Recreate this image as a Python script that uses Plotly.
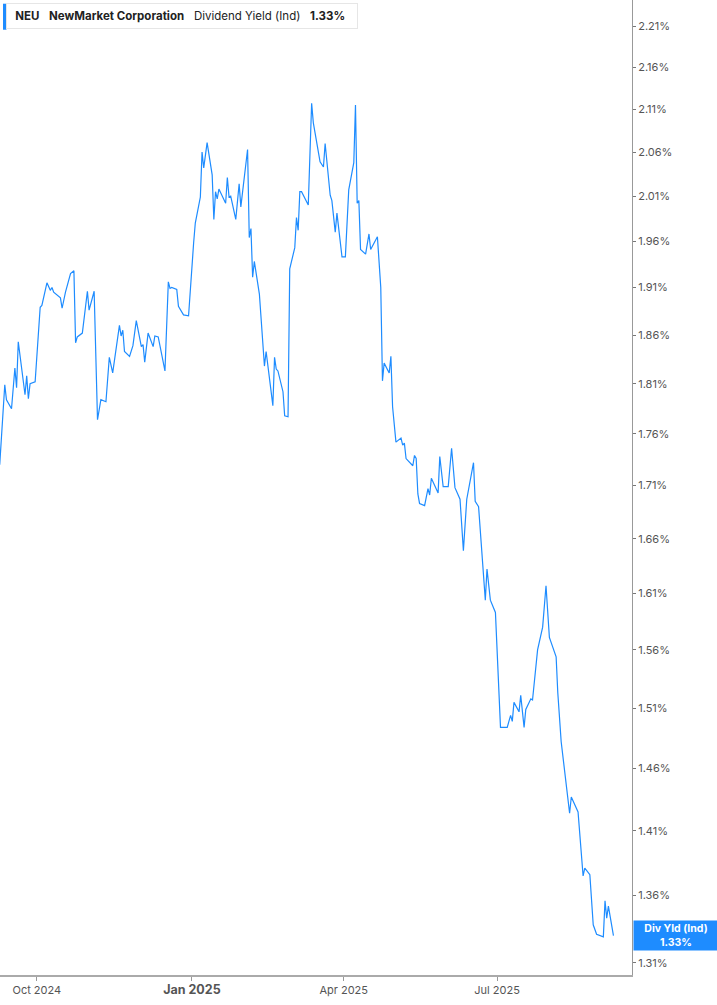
import numpy as np
import plotly.graph_objects as go

# NEU 배당수익률 (Ind), 그림에서 읽은 값 (%)
dates = [
    "2024-09-09", "2024-09-12", "2024-09-13", "2024-09-16", "2024-09-18", "2024-09-19",
    "2024-09-20", "2024-09-24", "2024-09-25", "2024-09-26", "2024-09-27", "2024-09-30",
    "2024-10-03", "2024-10-04", "2024-10-07", "2024-10-09", "2024-10-10", "2024-10-11",
    "2024-10-15", "2024-10-16", "2024-10-18", "2024-10-21", "2024-10-23", "2024-10-24",
    "2024-10-25", "2024-10-28", "2024-10-31", "2024-11-01", "2024-11-04", "2024-11-06",
    "2024-11-08", "2024-11-11", "2024-11-13", "2024-11-15", "2024-11-19", "2024-11-20",
    "2024-11-21", "2024-11-22", "2024-11-25", "2024-11-27", "2024-11-29", "2024-12-02",
    "2024-12-03", "2024-12-04", "2024-12-06", "2024-12-09", "2024-12-10", "2024-12-12",
    "2024-12-16", "2024-12-18", "2024-12-19", "2024-12-20", "2024-12-23", "2024-12-24",
    "2024-12-27", "2024-12-30", "2025-01-02", "2025-01-03", "2025-01-06", "2025-01-07",
    "2025-01-08", "2025-01-10", "2025-01-13", "2025-01-14", "2025-01-15", "2025-01-16",
    "2025-01-17", "2025-01-21", "2025-01-22", "2025-01-23", "2025-01-24", "2025-01-27",
    "2025-01-29", "2025-01-30", "2025-02-03", "2025-02-04", "2025-02-05", "2025-02-06",
    "2025-02-07", "2025-02-10", "2025-02-13", "2025-02-14", "2025-02-18", "2025-02-19",
    "2025-02-20", "2025-02-21", "2025-02-24", "2025-02-25", "2025-02-27", "2025-02-28",
    "2025-03-03", "2025-03-04", "2025-03-05", "2025-03-06", "2025-03-07", "2025-03-11",
    "2025-03-13", "2025-03-14", "2025-03-18", "2025-03-20", "2025-03-21", "2025-03-24",
    "2025-03-25", "2025-03-27", "2025-03-28", "2025-03-31", "2025-04-02", "2025-04-04",
    "2025-04-07", "2025-04-08", "2025-04-09", "2025-04-10", "2025-04-11", "2025-04-14",
    "2025-04-16", "2025-04-17", "2025-04-21", "2025-04-23", "2025-04-24", "2025-04-25",
    "2025-04-28", "2025-04-29", "2025-04-30", "2025-05-02", "2025-05-05", "2025-05-06",
    "2025-05-07", "2025-05-08", "2025-05-12", "2025-05-13", "2025-05-14", "2025-05-15",
    "2025-05-16", "2025-05-19", "2025-05-21", "2025-05-22", "2025-05-23", "2025-05-27",
    "2025-05-28", "2025-05-30", "2025-06-02", "2025-06-04", "2025-06-06", "2025-06-09",
    "2025-06-11", "2025-06-13", "2025-06-17", "2025-06-18", "2025-06-20", "2025-06-24",
    "2025-06-25", "2025-06-27", "2025-06-30", "2025-07-03", "2025-07-07", "2025-07-09",
    "2025-07-10", "2025-07-11", "2025-07-14", "2025-07-15", "2025-07-17", "2025-07-18",
    "2025-07-21", "2025-07-22", "2025-07-25", "2025-07-28", "2025-07-30", "2025-08-01",
    "2025-08-05", "2025-08-06", "2025-08-08", "2025-08-11", "2025-08-13", "2025-08-14",
    "2025-08-18", "2025-08-21", "2025-08-22", "2025-08-25", "2025-08-27", "2025-08-29",
    "2025-09-02", "2025-09-03", "2025-09-04", "2025-09-05", "2025-09-08",
]
div_yield = [
    1.730, 1.809, 1.794, 1.785, 1.826, 1.806,
    1.853, 1.799, 1.818, 1.795, 1.810, 1.812,
    1.889, 1.891, 1.915, 1.907, 1.910, 1.905,
    1.899, 1.888, 1.905, 1.925, 1.928, 1.852,
    1.858, 1.862, 1.906, 1.886, 1.906, 1.774,
    1.794, 1.792, 1.837, 1.821, 1.870, 1.859,
    1.865, 1.843, 1.838, 1.849, 1.875, 1.848,
    1.850, 1.832, 1.862, 1.848, 1.859, 1.858,
    1.823, 1.916, 1.909, 1.910, 1.908, 1.890,
    1.881, 1.880, 1.958, 1.980, 2.009, 2.060,
    2.042, 2.071, 2.034, 1.984, 2.015, 2.007,
    2.018, 2.002, 2.031, 2.009, 2.010, 1.984,
    2.024, 1.998, 2.063, 1.964, 1.974, 1.921,
    1.938, 1.903, 1.828, 1.843, 1.788, 1.837,
    1.825, 1.823, 1.802, 1.778, 1.777, 1.930,
    1.953, 1.986, 1.972, 2.015, 2.015, 2.000,
    2.117, 2.094, 2.049, 2.043, 2.070, 2.011,
    2.005, 1.970, 1.991, 1.943, 1.943, 2.017,
    2.048, 2.115, 2.002, 2.005, 1.951, 1.946,
    1.968, 1.951, 1.965, 1.910, 1.813, 1.831,
    1.821, 1.838, 1.787, 1.752, 1.756, 1.749,
    1.751, 1.736, 1.729, 1.739, 1.736, 1.702,
    1.693, 1.691, 1.707, 1.701, 1.717, 1.703,
    1.738, 1.709, 1.709, 1.746, 1.708, 1.697,
    1.649, 1.697, 1.732, 1.695, 1.690, 1.604,
    1.632, 1.604, 1.593, 1.494, 1.494, 1.504,
    1.499, 1.515, 1.507, 1.521, 1.494, 1.509,
    1.518, 1.517, 1.560, 1.580, 1.617, 1.571,
    1.554, 1.523, 1.482, 1.449, 1.424, 1.437,
    1.425, 1.375, 1.381, 1.376, 1.338, 1.331,
    1.329, 1.356, 1.343, 1.352, 1.330,
]

# 축 눈금
y_ticks = [1.31, 1.36, 1.41, 1.46, 1.51, 1.56, 1.61, 1.66, 1.71, 1.76,
           1.81, 1.86, 1.91, 1.96, 2.01, 2.06, 2.11, 2.16, 2.21]
y_tick_labels = [f"{v:.2f}%" for v in y_ticks]
x_ticks = ["2024-10-01", "2025-01-01", "2025-04-01", "2025-07-01"]
x_tick_labels = ["Oct 2024", "<span style='font-size:12.5px'><b>Jan 2025</b></span>",
                 "Apr 2025", "Jul 2025"]

last_value = div_yield[-1]
blue = "#1E8CFF"

fig = go.Figure()
fig.add_trace(go.Scatter(
    x=dates,
    y=div_yield,
    mode="lines",
    line=dict(color=blue, width=1.2),
    hoverinfo="x+y",
    showlegend=False,
))

# 상단 범례 박스 (왼쪽 파란 막대 포함)
fig.add_annotation(
    xref="paper", yref="paper", x=0.0095, y=0.9965,
    xanchor="left", yanchor="top",
    text=("\u00a0<b>NEU</b>\u00a0\u00a0\u00a0<b>NewMarket Corporation</b>\u00a0\u00a0\u00a0"
          f"Dividend Yield (Ind)\u00a0\u00a0\u00a0<b>{last_value:.2f}%</b>\u00a0\u00a0"),
    showarrow=False,
    font=dict(family="Inter", size=11.5, color="#222222"),
    bgcolor="white", bordercolor="#E6E6E6", borderwidth=1, borderpad=5,
)
fig.add_shape(
    type="rect", xref="paper", yref="paper",
    x0=0.0047, x1=0.0102, y0=0.9695, y1=0.9962,
    fillcolor=blue, line=dict(width=0),
)

# 마지막 값 라벨
fig.add_annotation(
    xref="paper", yref="y", x=1, y=np.log10(last_value),
    xanchor="left", yanchor="middle", xshift=1,
    text=f"<b>Div Yld (Ind)<br>{last_value:.2f}%</b>",
    showarrow=False,
    font=dict(family="Inter", size=10.5, color="white"),
    bgcolor=blue, width=80, height=25, borderpad=2, align="center",
)

fig.update_layout(
    width=717, height=1005,
    margin=dict(l=0, r=85, t=0, b=30),
    plot_bgcolor="white", paper_bgcolor="white",
    font=dict(family="Inter", size=11, color="#555555"),
    xaxis=dict(
        type="date",
        range=["2024-09-09 04:00", "2025-09-19"],
        tickmode="array", tickvals=x_ticks, ticktext=x_tick_labels,
        showgrid=False, zeroline=False,
        showline=True, linecolor="#AAAAAA", linewidth=1.5,
        ticks="outside", ticklen=4, tickcolor="#999999",
        tickfont=dict(family="Inter", size=11, color="#555555"),
    ),
    yaxis=dict(
        type="log",
        side="right",
        range=[0.11428, 0.35077],
        tickmode="array", tickvals=y_ticks, ticktext=y_tick_labels,
        showgrid=False, zeroline=False,
        showline=True, linecolor="#999999", linewidth=1,
        ticks="outside", ticklen=3, tickcolor="#777777",
        tickfont=dict(family="Inter", size=11, color="#555555"),
    ),
)

# 페이지 기본 여백 제거
fig.write_html("out.html", config={"displayModeBar": False},
               post_script="document.body.style.margin='0';")
